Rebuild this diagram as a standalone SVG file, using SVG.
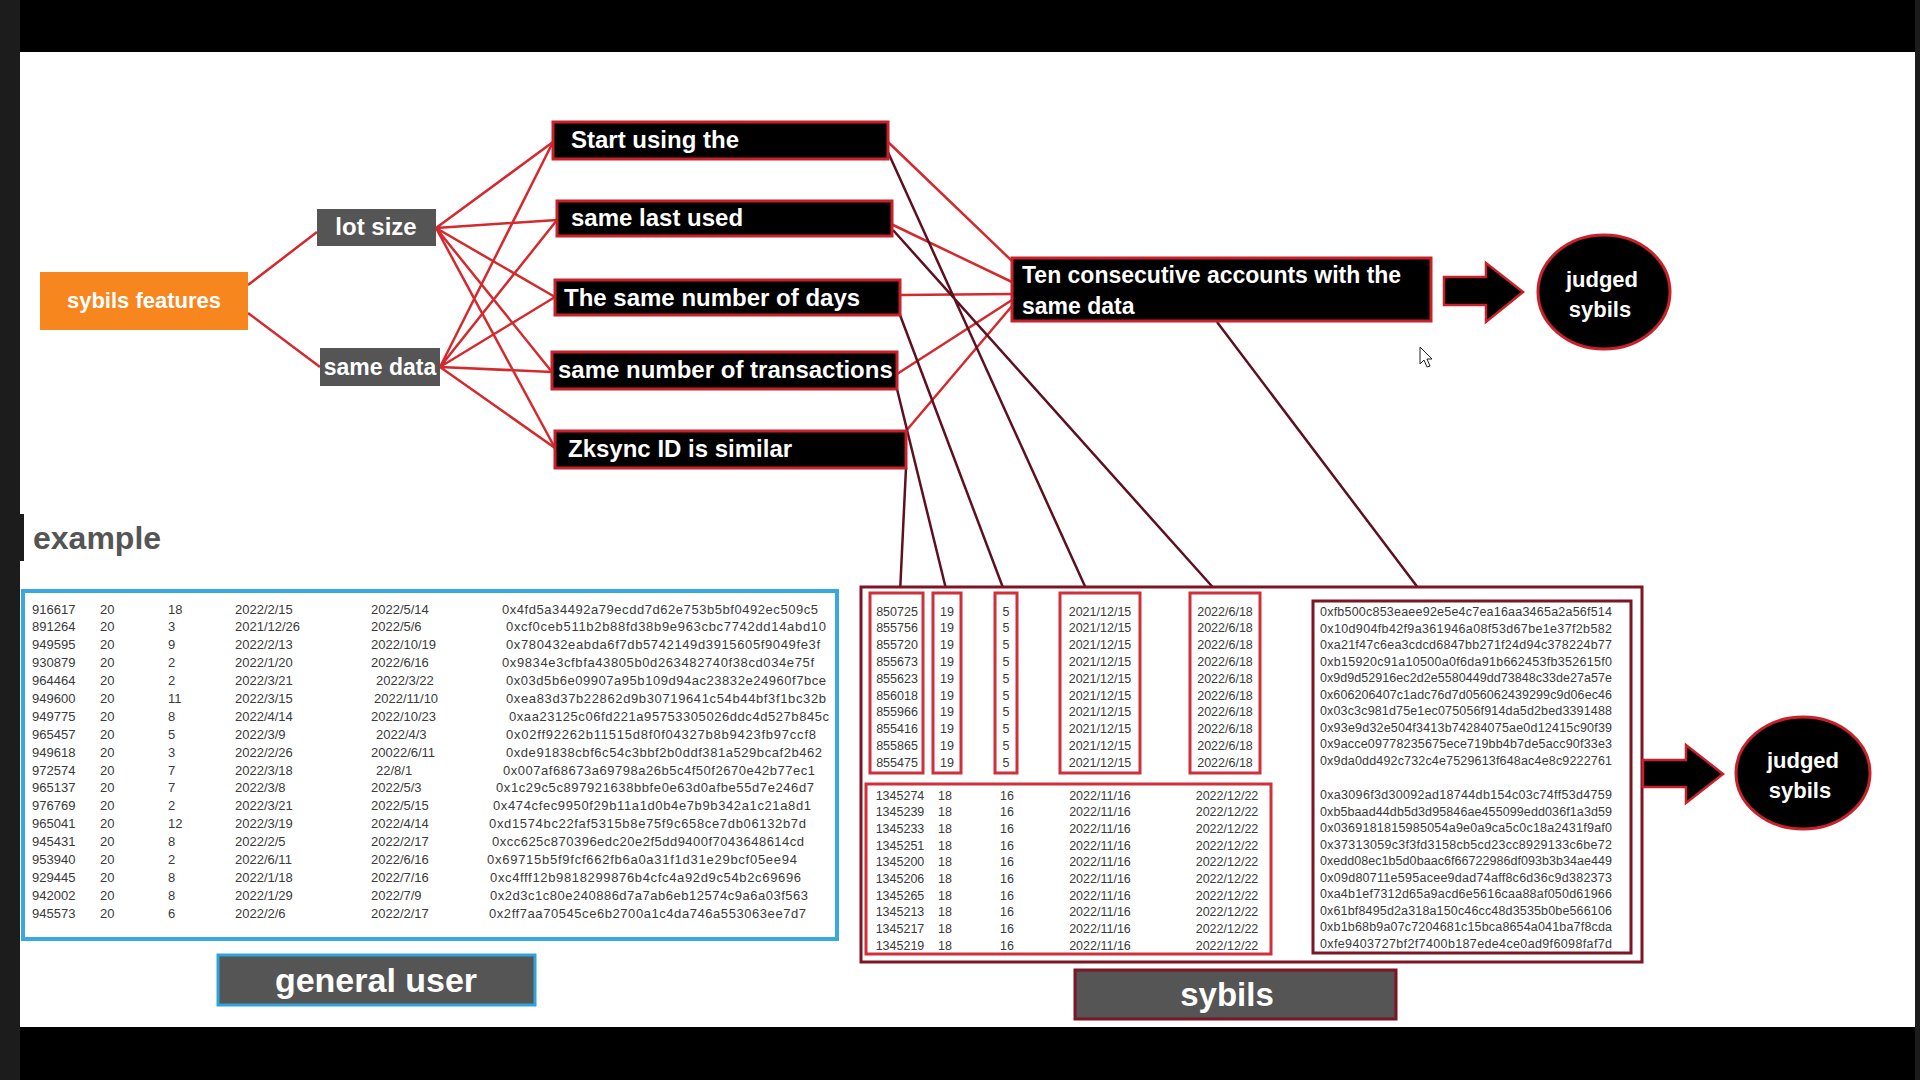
<svg xmlns="http://www.w3.org/2000/svg" width="1920" height="1080" viewBox="0 0 1920 1080">
<style>
.lbl{font-family:"Liberation Sans",Arial,sans-serif;font-weight:bold;fill:#fff}
.feat{fill:#000;stroke:#c9202a;stroke-width:3}
.red{stroke:#d42a2e;stroke-width:2.5;fill:none}
.dark{stroke:#5e1020;stroke-width:2.5;fill:none}
.t{font-family:"Liberation Sans",Arial,sans-serif;font-size:13px;fill:#3a3a3a}
.s{font-family:"Liberation Sans",Arial,sans-serif;font-size:12.5px;fill:#3a3a3a}
.c{text-anchor:middle}
.box{fill:none;stroke:#d0303a;stroke-width:3}
.arrow{fill:#000;stroke:#c9202a;stroke-width:2.5}
</style>
<rect x="0" y="0" width="1920" height="1080" fill="#fff"/>
<rect x="0" y="0" width="1920" height="52" fill="#000"/>
<rect x="0" y="1027" width="1920" height="53" fill="#000"/>
<rect x="0" y="0" width="20" height="1080" fill="#1c1c1c"/>
<rect x="1915" y="0" width="5" height="1080" fill="#1c1c1c"/>
<rect x="18" y="514" width="6" height="47" fill="#1c1c1c"/>

<g id="connectors">
<path class="red" d="M248,285 L317,232 M248,313 L320,367"/>
<path class="red" d="M436,228 L553,142 M436,228 L557,220 M436,228 L555,297 M436,228 L552,372 M436,228 L555,448"/>
<path class="red" d="M440,367 L553,142 M440,367 L557,220 M440,367 L555,297 M440,367 L552,372 M440,367 L555,448"/>
<path class="red" d="M887,141 L1012,261 M891,224 L1012,282 M900,295 L1012,294 M897,374 L1012,300 M906,431 L1012,306"/>
<path class="dark" d="M906,468 L900,593 M897,389 L947,593 M900,315 L1005,593 M887,150 L1088,593 M893,230 L1218,593 M1217,322 L1428,601"/>
</g>

<g id="sybils-features">
<rect x="40" y="272" width="208" height="58" fill="#f7861f"/>
<text class="lbl" x="144" y="308" font-size="22" text-anchor="middle" fill="#fff4ee">sybils features</text>
</g>
<g id="lot-size">
<rect x="317" y="209" width="119" height="37" fill="#555"/>
<text class="lbl" x="376" y="235" font-size="24" text-anchor="middle">lot size</text>
</g>
<g id="same-data">
<rect x="320" y="348" width="120" height="38" fill="#555"/>
<text class="lbl" x="380" y="375" font-size="23" text-anchor="middle">same data</text>
</g>
<g id="start-using">
<rect class="feat" x="553" y="122" width="335" height="37"/>
<text class="lbl" x="571" y="148" font-size="24">Start using the</text>
</g>
<g id="same-last-used">
<rect class="feat" x="557" y="201" width="335" height="35"/>
<text class="lbl" x="571" y="226" font-size="24">same last used</text>
</g>
<g id="same-days">
<rect class="feat" x="555" y="280" width="345" height="35"/>
<text class="lbl" x="564" y="306" font-size="24">The same number of days</text>
</g>
<g id="same-transactions">
<rect class="feat" x="552" y="352" width="345" height="37"/>
<text class="lbl" x="558" y="378" font-size="24">same number of transactions</text>
</g>
<g id="zksync-id">
<rect class="feat" x="555" y="431" width="351" height="37"/>
<text class="lbl" x="568" y="457" font-size="24">Zksync ID is similar</text>
</g>
<g id="ten-consecutive">
<rect class="feat" x="1012" y="258" width="419" height="63"/>
<text class="lbl" x="1022" y="283" font-size="23">Ten consecutive accounts with the</text>
<text class="lbl" x="1022" y="314" font-size="23">same data</text>
</g>
<g id="arrow-1">
<polygon class="arrow" points="1444,277 1486,277 1486,263 1523,292 1486,322 1486,305 1444,305"/>
</g>
<g id="judged-sybils-1">
<ellipse cx="1604" cy="292" rx="66" ry="57" fill="#000" stroke="#c9202a" stroke-width="3"/>
<text class="lbl" x="1602" y="287" font-size="22" text-anchor="middle">judged</text>
<text class="lbl" x="1600" y="317" font-size="22" text-anchor="middle">sybils</text>
</g>
<polygon points="1420,347 1420,364 1424,360 1427,367 1430,366 1427,359 1432,359" fill="#fff" stroke="#222" stroke-width="1"/>

<text x="33" y="549" font-family="Liberation Sans, Arial, sans-serif" font-weight="bold" font-size="32" fill="#555">example</text>

<g id="general-user-table">
<rect x="23" y="591" width="814" height="348" fill="#fff" stroke="#3aa8e0" stroke-width="4"/>
<g class="t">
<text y="614"><tspan x="32">916617</tspan><tspan x="100">20</tspan><tspan x="168">18</tspan><tspan x="235">2022/2/15</tspan><tspan x="371">2022/5/14</tspan><tspan x="502" textLength="316">0x4fd5a34492a79ecdd7d62e753b5bf0492ec509c5</tspan></text>
<text y="631"><tspan x="32">891264</tspan><tspan x="100">20</tspan><tspan x="168">3</tspan><tspan x="235">2021/12/26</tspan><tspan x="371">2022/5/6</tspan><tspan x="506" textLength="320">0xcf0ceb511b2b88fd38b9e963cbc7742dd14abd10</tspan></text>
<text y="649"><tspan x="32">949595</tspan><tspan x="100">20</tspan><tspan x="168">9</tspan><tspan x="235">2022/2/13</tspan><tspan x="371">2022/10/19</tspan><tspan x="506" textLength="314">0x780432eabda6f7db5742149d3915605f9049fe3f</tspan></text>
<text y="667"><tspan x="32">930879</tspan><tspan x="100">20</tspan><tspan x="168">2</tspan><tspan x="235">2022/1/20</tspan><tspan x="371">2022/6/16</tspan><tspan x="502" textLength="312">0x9834e3cfbfa43805b0d263482740f38cd034e75f</tspan></text>
<text y="685"><tspan x="32">964464</tspan><tspan x="100">20</tspan><tspan x="168">2</tspan><tspan x="235">2022/3/21</tspan><tspan x="376">2022/3/22</tspan><tspan x="506" textLength="320">0x03d5b6e09907a95b109d94ac23832e24960f7bce</tspan></text>
<text y="703"><tspan x="32">949600</tspan><tspan x="100">20</tspan><tspan x="168">11</tspan><tspan x="235">2022/3/15</tspan><tspan x="374">2022/11/10</tspan><tspan x="506" textLength="320">0xea83d37b22862d9b30719641c54b44bf3f1bc32b</tspan></text>
<text y="721"><tspan x="32">949775</tspan><tspan x="100">20</tspan><tspan x="168">8</tspan><tspan x="235">2022/4/14</tspan><tspan x="371">2022/10/23</tspan><tspan x="509" textLength="320">0xaa23125c06fd221a95753305026ddc4d527b845c</tspan></text>
<text y="739"><tspan x="32">965457</tspan><tspan x="100">20</tspan><tspan x="168">5</tspan><tspan x="235">2022/3/9</tspan><tspan x="376">2022/4/3</tspan><tspan x="506" textLength="310">0x02ff92262b11515d8f0f04327b8b9423fb97ccf8</tspan></text>
<text y="757"><tspan x="32">949618</tspan><tspan x="100">20</tspan><tspan x="168">3</tspan><tspan x="235">2022/2/26</tspan><tspan x="371">20022/6/11</tspan><tspan x="506" textLength="316">0xde91838cbf6c54c3bbf2b0ddf381a529bcaf2b462</tspan></text>
<text y="775"><tspan x="32">972574</tspan><tspan x="100">20</tspan><tspan x="168">7</tspan><tspan x="235">2022/3/18</tspan><tspan x="376">22/8/1</tspan><tspan x="503" textLength="312">0x007af68673a69798a26b5c4f50f2670e42b77ec1</tspan></text>
<text y="792"><tspan x="32">965137</tspan><tspan x="100">20</tspan><tspan x="168">7</tspan><tspan x="235">2022/3/8</tspan><tspan x="371">2022/5/3</tspan><tspan x="496" textLength="318">0x1c29c5c897921638bbfe0e63d0afbe55d7e246d7</tspan></text>
<text y="810"><tspan x="32">976769</tspan><tspan x="100">20</tspan><tspan x="168">2</tspan><tspan x="235">2022/3/21</tspan><tspan x="371">2022/5/15</tspan><tspan x="493" textLength="318">0x474cfec9950f29b11a1d0b4e7b9b342a1c21a8d1</tspan></text>
<text y="828"><tspan x="32">965041</tspan><tspan x="100">20</tspan><tspan x="168">12</tspan><tspan x="235">2022/3/19</tspan><tspan x="371">2022/4/14</tspan><tspan x="489" textLength="317">0xd1574bc22faf5315b8e75f9c658ce7db06132b7d</tspan></text>
<text y="846"><tspan x="32">945431</tspan><tspan x="100">20</tspan><tspan x="168">8</tspan><tspan x="235">2022/2/5</tspan><tspan x="371">2022/2/17</tspan><tspan x="492" textLength="312">0xcc625c870396edc20e2f5dd9400f7043648614cd</tspan></text>
<text y="864"><tspan x="32">953940</tspan><tspan x="100">20</tspan><tspan x="168">2</tspan><tspan x="235">2022/6/11</tspan><tspan x="371">2022/6/16</tspan><tspan x="487" textLength="310">0x69715b5f9fcf662fb6a0a31f1d31e29bcf05ee94</tspan></text>
<text y="882"><tspan x="32">929445</tspan><tspan x="100">20</tspan><tspan x="168">8</tspan><tspan x="235">2022/1/18</tspan><tspan x="371">2022/7/16</tspan><tspan x="490" textLength="311">0xc4fff12b9818299876b4cfc4a92d9c54b2c69696</tspan></text>
<text y="900"><tspan x="32">942002</tspan><tspan x="100">20</tspan><tspan x="168">8</tspan><tspan x="235">2022/1/29</tspan><tspan x="371">2022/7/9</tspan><tspan x="490" textLength="318">0x2d3c1c80e240886d7a7ab6eb12574c9a6a03f563</tspan></text>
<text y="918"><tspan x="32">945573</tspan><tspan x="100">20</tspan><tspan x="168">6</tspan><tspan x="235">2022/2/6</tspan><tspan x="371">2022/2/17</tspan><tspan x="489" textLength="317">0x2ff7aa70545ce6b2700a1c4da746a553063ee7d7</tspan></text>
</g>
</g>

<g id="general-user-label">
<rect x="218" y="955" width="317" height="50" fill="#555" stroke="#2ea3dc" stroke-width="3"/>
<text class="lbl" x="376" y="992" font-size="34" text-anchor="middle">general user</text>
</g>

<g id="sybils-table">
<rect x="861" y="587" width="781" height="375" fill="#fff" stroke="#7d1525" stroke-width="3"/>
<rect class="box" x="870" y="593" width="53" height="180"/>
<rect class="box" x="933" y="593" width="28" height="180"/>
<rect class="box" x="995" y="593" width="22" height="180"/>
<rect class="box" x="1060" y="593" width="80" height="180"/>
<rect class="box" x="1190" y="593" width="70" height="180"/>
<rect class="box" x="866" y="784" width="405" height="170"/>
<rect x="1313" y="601" width="318" height="352" fill="none" stroke="#7d1525" stroke-width="3"/>
<g class="s c">
<text y="616"><tspan x="897">850725</tspan><tspan x="947">19</tspan><tspan x="1006">5</tspan><tspan x="1100">2021/12/15</tspan><tspan x="1225">2022/6/18</tspan></text>
<text y="632"><tspan x="897">855756</tspan><tspan x="947">19</tspan><tspan x="1006">5</tspan><tspan x="1100">2021/12/15</tspan><tspan x="1225">2022/6/18</tspan></text>
<text y="649"><tspan x="897">855720</tspan><tspan x="947">19</tspan><tspan x="1006">5</tspan><tspan x="1100">2021/12/15</tspan><tspan x="1225">2022/6/18</tspan></text>
<text y="666"><tspan x="897">855673</tspan><tspan x="947">19</tspan><tspan x="1006">5</tspan><tspan x="1100">2021/12/15</tspan><tspan x="1225">2022/6/18</tspan></text>
<text y="683"><tspan x="897">855623</tspan><tspan x="947">19</tspan><tspan x="1006">5</tspan><tspan x="1100">2021/12/15</tspan><tspan x="1225">2022/6/18</tspan></text>
<text y="700"><tspan x="897">856018</tspan><tspan x="947">19</tspan><tspan x="1006">5</tspan><tspan x="1100">2021/12/15</tspan><tspan x="1225">2022/6/18</tspan></text>
<text y="716"><tspan x="897">855966</tspan><tspan x="947">19</tspan><tspan x="1006">5</tspan><tspan x="1100">2021/12/15</tspan><tspan x="1225">2022/6/18</tspan></text>
<text y="733"><tspan x="897">855416</tspan><tspan x="947">19</tspan><tspan x="1006">5</tspan><tspan x="1100">2021/12/15</tspan><tspan x="1225">2022/6/18</tspan></text>
<text y="750"><tspan x="897">855865</tspan><tspan x="947">19</tspan><tspan x="1006">5</tspan><tspan x="1100">2021/12/15</tspan><tspan x="1225">2022/6/18</tspan></text>
<text y="767"><tspan x="897">855475</tspan><tspan x="947">19</tspan><tspan x="1006">5</tspan><tspan x="1100">2021/12/15</tspan><tspan x="1225">2022/6/18</tspan></text>
<text y="800"><tspan x="900">1345274</tspan><tspan x="945">18</tspan><tspan x="1007">16</tspan><tspan x="1100">2022/11/16</tspan><tspan x="1227">2022/12/22</tspan></text>
<text y="816"><tspan x="900">1345239</tspan><tspan x="945">18</tspan><tspan x="1007">16</tspan><tspan x="1100">2022/11/16</tspan><tspan x="1227">2022/12/22</tspan></text>
<text y="833"><tspan x="900">1345233</tspan><tspan x="945">18</tspan><tspan x="1007">16</tspan><tspan x="1100">2022/11/16</tspan><tspan x="1227">2022/12/22</tspan></text>
<text y="850"><tspan x="900">1345251</tspan><tspan x="945">18</tspan><tspan x="1007">16</tspan><tspan x="1100">2022/11/16</tspan><tspan x="1227">2022/12/22</tspan></text>
<text y="866"><tspan x="900">1345200</tspan><tspan x="945">18</tspan><tspan x="1007">16</tspan><tspan x="1100">2022/11/16</tspan><tspan x="1227">2022/12/22</tspan></text>
<text y="883"><tspan x="900">1345206</tspan><tspan x="945">18</tspan><tspan x="1007">16</tspan><tspan x="1100">2022/11/16</tspan><tspan x="1227">2022/12/22</tspan></text>
<text y="900"><tspan x="900">1345265</tspan><tspan x="945">18</tspan><tspan x="1007">16</tspan><tspan x="1100">2022/11/16</tspan><tspan x="1227">2022/12/22</tspan></text>
<text y="916"><tspan x="900">1345213</tspan><tspan x="945">18</tspan><tspan x="1007">16</tspan><tspan x="1100">2022/11/16</tspan><tspan x="1227">2022/12/22</tspan></text>
<text y="933"><tspan x="900">1345217</tspan><tspan x="945">18</tspan><tspan x="1007">16</tspan><tspan x="1100">2022/11/16</tspan><tspan x="1227">2022/12/22</tspan></text>
<text y="950"><tspan x="900">1345219</tspan><tspan x="945">18</tspan><tspan x="1007">16</tspan><tspan x="1100">2022/11/16</tspan><tspan x="1227">2022/12/22</tspan></text>
</g>
<g class="s">
<text x="1320" y="616" textLength="292">0xfb500c853eaee92e5e4c7ea16aa3465a2a56f514</text>
<text x="1320" y="633" textLength="292">0x10d904fb42f9a361946a08f53d67be1e37f2b582</text>
<text x="1320" y="649" textLength="292">0xa21f47c6ea3cdcd6847bb271f24d94c378224b77</text>
<text x="1320" y="666" textLength="292">0xb15920c91a10500a0f6da91b662453fb352615f0</text>
<text x="1320" y="682" textLength="292">0x9d9d52916ec2d2e5580449dd73848c33de27a57e</text>
<text x="1320" y="699" textLength="292">0x606206407c1adc76d7d056062439299c9d06ec46</text>
<text x="1320" y="715" textLength="292">0x03c3c981d75e1ec075056f914da5d2bed3391488</text>
<text x="1320" y="732" textLength="292">0x93e9d32e504f3413b74284075ae0d12415c90f39</text>
<text x="1320" y="748" textLength="292">0x9acce09778235675ece719bb4b7de5acc90f33e3</text>
<text x="1320" y="765" textLength="292">0x9da0dd492c732c4e7529613f648ac4e8c9222761</text>
<text x="1320" y="799" textLength="292">0xa3096f3d30092ad18744db154c03c74ff53d4759</text>
<text x="1320" y="816" textLength="292">0xb5baad44db5d3d95846ae455099edd036f1a3d59</text>
<text x="1320" y="832" textLength="292">0x0369181815985054a9e0a9ca5c0c18a2431f9af0</text>
<text x="1320" y="849" textLength="292">0x37313059c3f3fd3158cb5cd23cc8929133c6be72</text>
<text x="1320" y="865" textLength="292">0xedd08ec1b5d0baac6f66722986df093b3b34ae449</text>
<text x="1320" y="882" textLength="292">0x09d80711e595acee9dad74aff8c6d36c9d382373</text>
<text x="1320" y="898" textLength="292">0xa4b1ef7312d65a9acd6e5616caa88af050d61966</text>
<text x="1320" y="915" textLength="292">0x61bf8495d2a318a150c46cc48d3535b0be566106</text>
<text x="1320" y="931" textLength="292">0xb1b68b9a07c7204681c15bca8654a041ba7f8cda</text>
<text x="1320" y="948" textLength="292">0xfe9403727bf2f7400b187ede4ce0ad9f6098faf7d</text>
</g>
</g>

<g id="sybils-label">
<rect x="1075" y="970" width="321" height="49" fill="#555" stroke="#7d1525" stroke-width="3"/>
<text class="lbl" x="1227" y="1006" font-size="33" text-anchor="middle">sybils</text>
</g>

<g id="arrow-2">
<polygon class="arrow" points="1643,760 1686,760 1686,745 1723,774 1686,803 1686,787 1643,787"/>
</g>
<g id="judged-sybils-2">
<ellipse cx="1803" cy="773" rx="67" ry="56" fill="#000" stroke="#c9202a" stroke-width="3"/>
<text class="lbl" x="1803" y="768" font-size="22" text-anchor="middle">judged</text>
<text class="lbl" x="1800" y="798" font-size="22" text-anchor="middle">sybils</text>
</g>
</svg>
